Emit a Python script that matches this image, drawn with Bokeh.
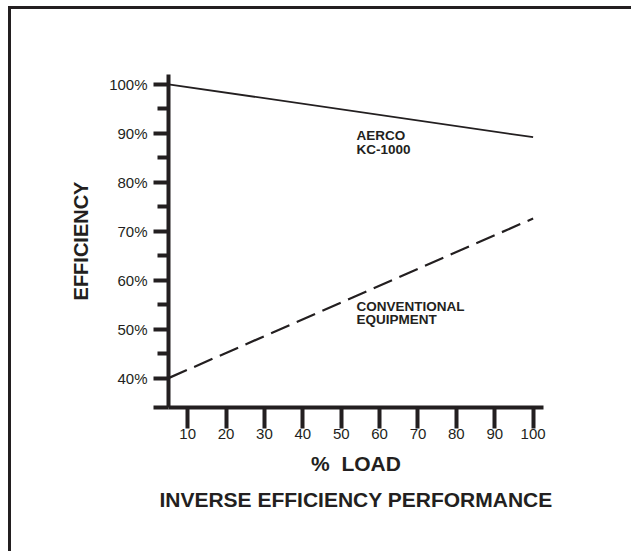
from bokeh.plotting import figure
from bokeh.models import FixedTicker, CustomJSTickFormatter, Title, ColumnDataSource, Range1d
from bokeh.core.properties import value
from bokeh.embed import file_html
from bokeh.resources import INLINE

# ---- data ----
load_ends = [5, 100]
aerco_eff = [100, 89.2]
conventional_eff = [40, 72.6]

y_major_ticks = [34, 40, 50, 60, 70, 80, 90, 100]
y_minor_ticks = [45, 55, 65, 75, 85, 95]
x_ticks = [10, 20, 30, 40, 50, 60, 70, 80, 90, 100]

label_texts = ["AERCO\nKC-1000", "CONVENTIONAL\nEQUIPMENT"]
label_x = [54, 54]
label_y = [91.0, 56.1]

INK = "#231f20"
FONT = "Liberation Sans"

p = figure(
    width=623, height=545, tools="",
    x_range=Range1d(5, 102.7), y_range=Range1d(34, 102),
    output_backend="svg", toolbar_location=None,
    min_border_left=157, min_border_top=65, min_border_right=91, min_border_bottom=147,
    styles={"box-shadow": f"-3px -3px 0 0 {INK}",
            "margin-top": "9px", "margin-left": "11px"},
)
p.toolbar.logo = None
p.outline_line_color = None
p.xgrid.grid_line_color = None
p.ygrid.grid_line_color = None
p.background_fill_color = "white"
p.border_fill_color = "white"

# y axis
ya = p.yaxis[0]
ya.ticker = FixedTicker(ticks=y_major_ticks, minor_ticks=y_minor_ticks)
ya.formatter = CustomJSTickFormatter(code="return tick < 35 ? '' : tick + '%';")
ya.axis_line_width = 4
ya.axis_line_color = INK
ya.major_tick_line_width = 4
ya.major_tick_line_color = INK
ya.major_tick_out = 15
ya.major_tick_in = 0
ya.minor_tick_line_width = 4
ya.minor_tick_line_color = INK
ya.minor_tick_out = 11
ya.minor_tick_in = 0
ya.major_label_text_font = FONT
ya.major_label_text_font_size = "15px"
ya.major_label_text_color = INK
ya.major_label_standoff = 6
ya.axis_label = "EFFICIENCY"
ya.axis_label_text_font = FONT
ya.axis_label_text_font_size = "20px"
ya.axis_label_text_font_style = "bold"
ya.axis_label_text_color = INK
ya.axis_label_standoff = 14

# x axis
xa = p.xaxis[0]
xa.ticker = FixedTicker(ticks=x_ticks)
xa.axis_line_width = 4
xa.axis_line_color = INK
xa.major_tick_line_width = 4
xa.major_tick_line_color = INK
xa.major_tick_out = 21
xa.major_tick_in = 0
xa.minor_tick_line_color = None
xa.major_label_text_font = FONT
xa.major_label_text_font_size = "15px"
xa.major_label_text_color = INK
xa.major_label_standoff = 0
xa.axis_label = "%\u00a0 LOAD"
xa.axis_label_text_font = FONT
xa.axis_label_text_font_size = "21px"
xa.axis_label_text_font_style = "bold"
xa.axis_label_text_color = INK
xa.axis_label_standoff = 10

p.add_layout(Title(text="INVERSE EFFICIENCY PERFORMANCE", align="center",
                   text_font=FONT, text_font_size="21px", text_font_style="bold",
                   text_color=INK, standoff=16), "below")

# lines
p.line(load_ends, aerco_eff, line_color=INK, line_width=1.8)
p.line(load_ends, conventional_eff, line_color=INK, line_width=2.2, line_dash="20 8")

src = ColumnDataSource(dict(x=label_x, y=label_y, t=label_texts))
p.text(x="x", y="y", text="t", source=src, text_font=value(FONT), text_font_size="13.5px",
       text_font_style="bold", text_color=INK, text_baseline="top", text_align="left",
       text_line_height=0.88)

open("out.html", "w").write(file_html(p, INLINE))
